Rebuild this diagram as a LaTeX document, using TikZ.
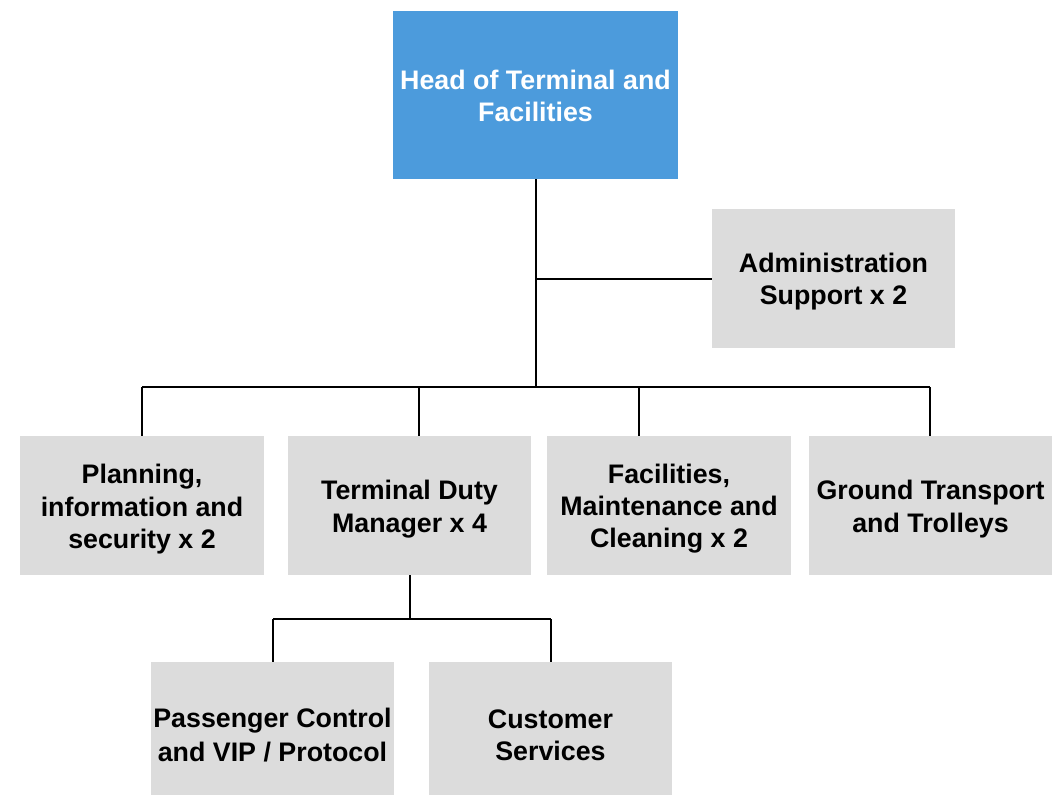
\documentclass[tikz,border=0pt]{standalone}
\usepackage{fontspec}
\setmainfont{Liberation Sans}
\definecolor{headblue}{HTML}{4C9BDC}
\definecolor{boxgray}{HTML}{DCDCDC}
% fixed-height line strut so every text line takes the same room
\newcommand\rowstrut{\rule[-5.5pt]{0pt}{32pt}}
\begin{document}
\begin{tikzpicture}[x=1pt,y=-1pt,
  unit/.style={rectangle, fill=boxgray, inner sep=0pt, align=center,
    font=\fontsize{26.8}{32}\selectfont\bfseries, text=black},
  headunit/.style={unit, fill=headblue, text=white},
  link/.style={draw=black, line width=2pt}]
\useasboundingbox (0,0) rectangle (1061,795);

% head and staff support
\node[headunit, minimum width=285pt, minimum height=168pt] (head) at (535.5,95)
  {\rowstrut Head of Terminal and\\\rowstrut Facilities};
\node[unit, minimum width=243pt, minimum height=139pt] (admin) at (833.5,278.5)
  {\rowstrut Administration\\\rowstrut Support x 2};

% departments
\node[unit, minimum width=244pt, minimum height=139pt] (plan) at (142,505.5)
  {\rowstrut Planning,\\\rowstrut information and\\\rowstrut security x 2};
\node[unit, minimum width=243pt, minimum height=139pt] (duty) at (409.5,505.5)
  {\rowstrut Terminal Duty\\\rowstrut Manager x 4};
\node[unit, minimum width=244pt, minimum height=139pt] (fac) at (669,505.5)
  {\rowstrut Facilities,\\\rowstrut Maintenance and\\\rowstrut Cleaning x 2};
\node[unit, minimum width=243pt, minimum height=139pt] (ground) at (930.5,505.5)
  {\rowstrut Ground Transport\\\rowstrut and Trolleys};

% teams under the duty manager
\node[unit, minimum width=243pt, minimum height=144pt] (pax) at (272.5,734)
  {\rowstrut Passenger Control\\\rowstrut and VIP / Protocol};
\node[unit, minimum width=243pt, minimum height=144pt] (cust) at (550.5,734)
  {\rowstrut Customer\\\rowstrut Services};

% bus coordinates
\coordinate (hub) at (535.5,387);
\coordinate (b1) at (142,387);
\coordinate (b2) at (418.5,387);
\coordinate (b3) at (638.5,387);
\coordinate (b4) at (930,387);
\coordinate (sub) at (410,619);
\coordinate (s1) at (273,619);
\coordinate (s2) at (550.5,619);

% connectors
\draw[link] (head.south) -- (hub);
\draw[link] (head.south |- admin.west) -- (admin.west);
\draw[link] (b1) -- (b4);
\draw[link] (b1) -- (b1 |- plan.north);
\draw[link] (b2) -- (b2 |- duty.north);
\draw[link] (b3) -- (b3 |- fac.north);
\draw[link] (b4) -- (b4 |- ground.north);
\draw[link] (sub |- duty.south) -- (sub);
\draw[link] (s1) -- (s2);
\draw[link] (s1) -- (s1 |- pax.north);
\draw[link] (s2) -- (s2 |- cust.north);
\end{tikzpicture}
\end{document}
